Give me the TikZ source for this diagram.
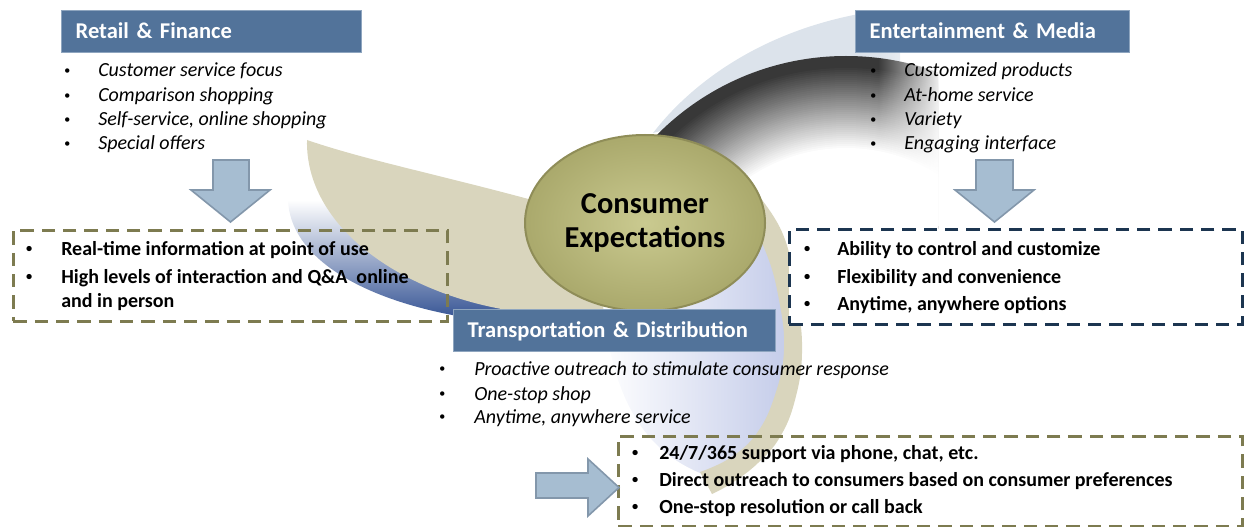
\documentclass[tikz,border=0pt]{standalone}
\usepackage{fontspec}
\setmainfont{Carlito}
\usetikzlibrary{shapes.geometric,fadings}
\definecolor{hdr}{HTML}{52739A}
\definecolor{hdrline}{HTML}{8EA5BF}
\definecolor{arw}{HTML}{A6BDD1}
\definecolor{arwline}{HTML}{8397AB}
\definecolor{beige}{HTML}{D9D5BD}
\definecolor{ltband}{HTML}{DCE3EB}
\definecolor{lav}{HTML}{C3CBE9}
\definecolor{navyb}{HTML}{2A4A8E}
\definecolor{olvin}{HTML}{CACA90}
\definecolor{olvout}{HTML}{AAA96C}
\definecolor{olvline}{HTML}{8F8D58}
\definecolor{dasholive}{HTML}{7D7B50}
\definecolor{dashnavy}{HTML}{1C3550}
\tikzfading[name=fadeinR, left color=transparent!100, right color=transparent!0]
\newcommand\bitem[2]{\makebox[#1][c]{\raisebox{0.13em}{\scalebox{0.62}{\textbullet}}}#2}
\tikzset{
  hdrbox/.style={draw=hdrline, line width=1pt, fill=hdr, anchor=north west,
    minimum height=31.5pt, inner ysep=0pt, inner xsep=10.5pt, align=left,
    text height=10.7pt, text depth=0pt, text=white,
    font=\fontsize{16.9}{20}\selectfont\bfseries},
  itl/.style={font=\fontsize{15}{18}\selectfont\itshape, anchor=base west, inner sep=0pt},
  bld/.style={font=\fontsize{15}{18}\selectfont\bfseries, anchor=base west, inner sep=0pt},
  blockarrow/.style={fill=arw, draw=arwline, line width=1.2pt, line join=miter},
  dbox/.style={line width=2.2pt, dash pattern=on 10pt off 6pt, anchor=north west, inner sep=0pt},
}
\begin{document}
\begin{tikzpicture}[x=0.75pt, y=-0.75pt]
\useasboundingbox (0,0) rectangle (1244,527);

% top-right light band
\fill[ltband] (653,133) .. controls (690,85) and (760,30) .. (870,12) -- (900,12) -- (900,70) -- cycle;
% top-right dark crescent (rings)
\begin{scope}
  \clip (846,322) -- (540,22) -- (938,5) -- (938,322) -- cycle;
  \foreach \k in {0,...,48} {
    \pgfmathsetmacro\rr{266-2*\k}
    \pgfmathsetmacro\pp{max(0,min(78,0.95*(\rr-174)))}
    \fill[black!\pp] (846,322) circle[radius=\rr];
  }
\end{scope}
\fill[white, path fading=fadeinR] (878,40) rectangle (944,226);

% left swirl: blue shadow and beige arm
\begin{scope}
  \clip (307,140) .. controls (230,260) and (400,325) .. (560,325) -- (560,250) -- cycle;
  \shade[top color=white, middle color=white!65!navyb, bottom color=navyb] (270,200) rectangle (570,326);
\end{scope}
\fill[beige] (307,140) .. controls (380,165) and (470,180) .. (620,225) -- (640,318) -- (540,314)
  .. controls (420,305) and (305,235) .. (307,140) -- cycle;

% right swirl: lavender and beige arm
\shade[left color=white, right color=lav]
  (600,240) -- (774,240) -- (788,300) -- (792,350) -- (788,400) -- (763,445) -- (705,475)
  .. controls (640,450) and (600,390) .. (600,240) -- cycle;
\fill[beige] plot[smooth, tension=0.7] coordinates {(744,178) (782,232) (797,300) (802,353) (795,400) (780,437) (758,463) (732,483) (712,494)}
  -- plot[smooth, tension=0.7] coordinates {(700,472) (730,458) (757,433) (775,395) (784,350) (779,300) (765,250) (735,190)} -- cycle;

% dashed boxes
\node[dbox, draw=dasholive, minimum width=325.5pt, minimum height=68.25pt] (lbox) at (12,229) {};
\node[dbox, draw=dashnavy, fill=white, minimum width=339.75pt, minimum height=71.25pt] (rbox) at (788,228) {};
\node[dbox, draw=dasholive, minimum width=468pt, minimum height=67.5pt] (bbox) at (617,435) {};

% block arrows
\draw[blockarrow] (213,160) -- (249,160) -- (249,190) -- (270,190) -- (230.5,222) -- (191,190) -- (213,190) -- cycle;
\draw[blockarrow] (976,160) -- (1013,160) -- (1013,190) -- (1034,190) -- (994.5,222) -- (955,190) -- (976,190) -- cycle;
\draw[blockarrow] (536,473) -- (588,473) -- (588,459) -- (619,487.5) -- (588,516) -- (588,498) -- (536,498) -- cycle;

% central ellipse
\node[ellipse, minimum width=180pt, minimum height=132pt, inner sep=0pt, draw=olvline, line width=1.5pt,
  inner color=olvin, outer color=olvout, align=center, font=\fontsize{22.8}{25.5}\selectfont\bfseries]
  (ce) at (645,223) {Consumer\\Expectations};

% headers
\node[hdrbox, minimum width=225pt, text width=204pt] (hretail) at (61,10) {Retail \& Finance};
\node[hdrbox, minimum width=205.5pt, text width=184.5pt] (hent) at (855,10) {Entertainment \& Media};
\node[hdrbox, minimum width=241.5pt, text width=220.5pt] (htrans) at (453,309) {Transportation \& Distribution};

% retail list
\node[itl] (r1) at (36,77) {\bitem{46.5pt}{Customer service focus}};
\node[itl] (r2) at (36,102) {\bitem{46.5pt}{Comparison shopping}};
\node[itl] (r3) at (36,126) {\bitem{46.5pt}{Self-service, online shopping}};
\node[itl] (r4) at (36,150) {\bitem{46.5pt}{Special offers}};
% entertainment list
\node[itl] (e1) at (842,77) {\bitem{46.5pt}{Customized products}};
\node[itl] (e2) at (842,102) {\bitem{46.5pt}{At-home service}};
\node[itl] (e3) at (842,126) {\bitem{46.5pt}{Variety}};
\node[itl] (e4) at (842,150) {\bitem{46.5pt}{Engaging interface}};
% transport list
\node[itl] (t1) at (410,375) {\bitem{48pt}{Proactive outreach to stimulate consumer response}};
\node[itl] (t2) at (410,400) {\bitem{48pt}{One-stop shop}};
\node[itl] (t3) at (410,423) {\bitem{48pt}{Anytime, anywhere service}};
% left box
\node[bld] (l1) at (-3,255) {\bitem{48pt}{Real-time information at point of use}};
\node[bld] (l2) at (-3,283) {\bitem{48pt}{High levels of interaction and Q\&A\ \ online}};
\node[bld] (l3) at (61,307) {and in person};
% right box
\node[bld] (b1) at (777,255) {\bitem{45pt}{Ability to control and customize}};
\node[bld] (b2) at (777,283) {\bitem{45pt}{Flexibility and convenience}};
\node[bld] (b3) at (777,310) {\bitem{45pt}{Anytime, anywhere options}};
% bottom box
\node[bld] (d1) at (611,459) {\bitem{36pt}{24/7/365 support via phone, chat, etc.}};
\node[bld] (d2) at (611,486) {\bitem{36pt}{Direct outreach to consumers based on consumer preferences}};
\node[bld] (d3) at (611,513) {\bitem{36pt}{One-stop resolution or call back}};
\end{tikzpicture}
\end{document}
